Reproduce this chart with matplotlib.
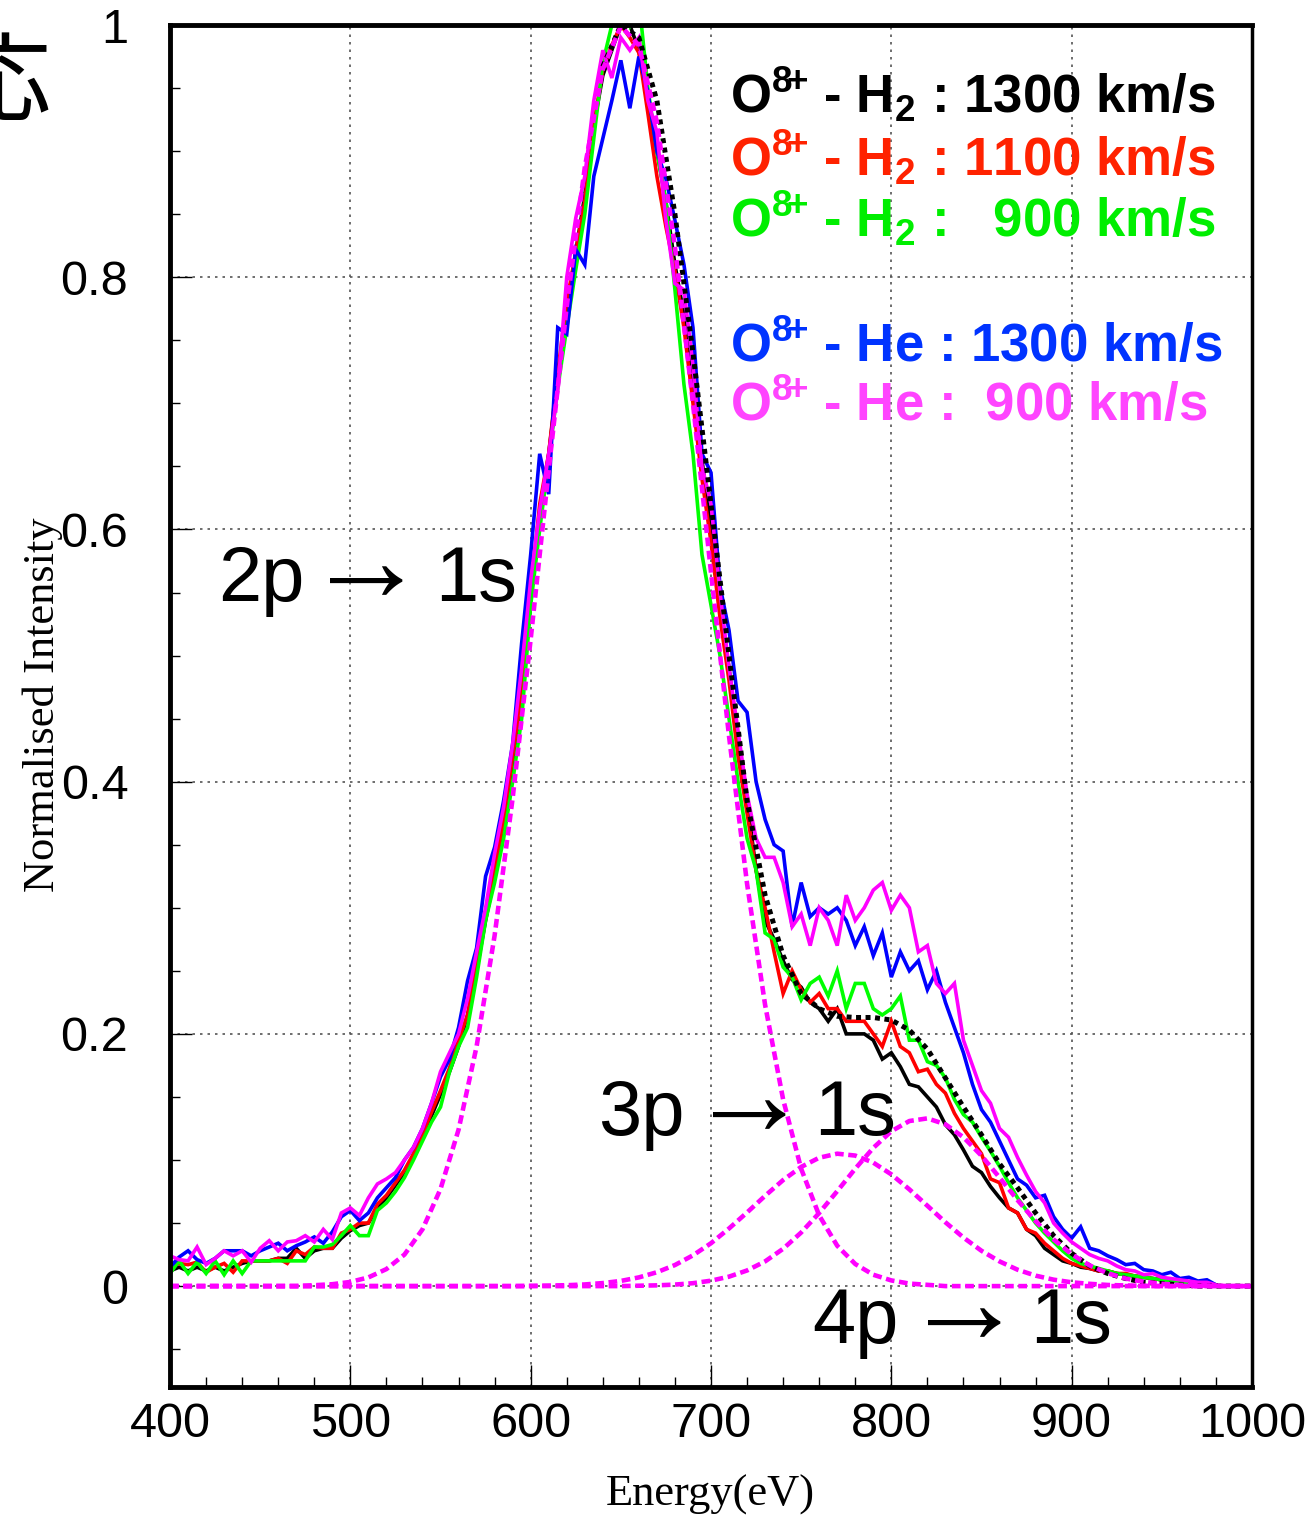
import numpy as np
import matplotlib
matplotlib.use("Agg")
import matplotlib.pyplot as plt
from matplotlib.ticker import MultipleLocator

plt.rcParams['mathtext.fontset'] = 'custom'
plt.rcParams['mathtext.rm'] = 'Liberation Sans'
plt.rcParams['mathtext.bf'] = 'Liberation Sans:bold'

# ---------------- data ----------------
energy = np.arange(400, 985, 5)

h2_1300 = [0.012, 0.015, 0.012, 0.015, 0.012, 0.015, 0.012, 0.015, 0.018, 0.020,
           0.020, 0.020, 0.022, 0.022, 0.030, 0.022, 0.028, 0.030, 0.030, 0.038,
           0.044, 0.048, 0.050, 0.062, 0.070, 0.080, 0.090, 0.102, 0.118, 0.135,
           0.152, 0.170, 0.190, 0.215, 0.250, 0.290, 0.325, 0.365, 0.415, 0.465,
           0.545, 0.610, 0.660, 0.720, 0.775, 0.820, 0.865, 0.920, 0.960, 0.980,
           1.000, 1.000, 0.980, 0.940, 0.900, 0.860, 0.810, 0.770, 0.710, 0.655,
           0.600, 0.540, 0.490, 0.430, 0.385, 0.330, 0.290, 0.275, 0.258, 0.243,
           0.237, 0.225, 0.220, 0.210, 0.220, 0.200, 0.200, 0.200, 0.195, 0.180,
           0.185, 0.174, 0.160, 0.158, 0.150, 0.142, 0.128, 0.120, 0.108, 0.095,
           0.090, 0.079, 0.070, 0.062, 0.058, 0.045, 0.040, 0.030, 0.025, 0.020,
           0.018, 0.015, 0.014, 0.012, 0.012, 0.010, 0.009, 0.008, 0.007, 0.006,
           0.005, 0.004, 0.004, 0.003, 0.002, 0.002, 0.001]

h2_1100 = [0.015, 0.018, 0.017, 0.019, 0.011, 0.015, 0.018, 0.011, 0.020, 0.020,
           0.020, 0.020, 0.022, 0.018, 0.028, 0.025, 0.031, 0.030, 0.030, 0.042,
           0.045, 0.050, 0.050, 0.065, 0.072, 0.082, 0.092, 0.105, 0.120, 0.138,
           0.155, 0.173, 0.195, 0.215, 0.255, 0.297, 0.330, 0.370, 0.420, 0.470,
           0.550, 0.620, 0.660, 0.725, 0.780, 0.820, 0.860, 0.920, 0.965, 0.984,
           1.000, 0.990, 0.978, 0.930, 0.880, 0.840, 0.805, 0.760, 0.700, 0.640,
           0.590, 0.530, 0.480, 0.420, 0.375, 0.330, 0.300, 0.265, 0.232, 0.250,
           0.235, 0.225, 0.232, 0.220, 0.220, 0.210, 0.210, 0.210, 0.200, 0.190,
           0.210, 0.190, 0.185, 0.170, 0.172, 0.160, 0.153, 0.137, 0.125, 0.115,
           0.105, 0.085, 0.082, 0.062, 0.058, 0.045, 0.042, 0.034, 0.028, 0.022,
           0.018, 0.016, 0.014, 0.012, 0.012, 0.010, 0.010, 0.008, 0.007, 0.006,
           0.005, 0.004, 0.004, 0.003, 0.002, 0.002, 0.001]

h2_900 = [0.010, 0.020, 0.010, 0.019, 0.010, 0.020, 0.009, 0.020, 0.010, 0.020,
          0.020, 0.020, 0.020, 0.020, 0.020, 0.020, 0.031, 0.031, 0.033, 0.040,
          0.048, 0.040, 0.040, 0.060, 0.066, 0.075, 0.086, 0.100, 0.115, 0.130,
          0.142, 0.170, 0.190, 0.205, 0.245, 0.290, 0.320, 0.355, 0.400, 0.450,
          0.540, 0.600, 0.655, 0.712, 0.760, 0.806, 0.850, 0.910, 0.970, 1.000,
          1.020, 1.000, 1.020, 0.950, 0.900, 0.860, 0.790, 0.715, 0.660, 0.580,
          0.540, 0.500, 0.450, 0.400, 0.355, 0.330, 0.280, 0.275, 0.253, 0.245,
          0.227, 0.240, 0.245, 0.230, 0.250, 0.220, 0.240, 0.240, 0.220, 0.215,
          0.220, 0.230, 0.195, 0.195, 0.178, 0.175, 0.165, 0.148, 0.136, 0.130,
          0.118, 0.107, 0.095, 0.082, 0.070, 0.060, 0.050, 0.042, 0.035, 0.028,
          0.022, 0.018, 0.016, 0.014, 0.012, 0.010, 0.009, 0.008, 0.007, 0.006,
          0.005, 0.004, 0.003, 0.002, 0.002, 0.001, 0.001]

he_1300 = [0.015, 0.023, 0.028, 0.021, 0.018, 0.022, 0.028, 0.028, 0.028, 0.024,
           0.028, 0.031, 0.034, 0.028, 0.032, 0.035, 0.039, 0.034, 0.043, 0.055,
           0.060, 0.052, 0.058, 0.070, 0.078, 0.086, 0.100, 0.110, 0.125, 0.145,
           0.166, 0.180, 0.205, 0.242, 0.268, 0.325, 0.348, 0.385, 0.430, 0.510,
           0.580, 0.660, 0.628, 0.760, 0.755, 0.822, 0.810, 0.880, 0.910, 0.940,
           0.972, 0.934, 0.975, 0.947, 0.900, 0.878, 0.845, 0.810, 0.760, 0.660,
           0.645, 0.555, 0.520, 0.464, 0.455, 0.400, 0.370, 0.350, 0.345, 0.285,
           0.320, 0.293, 0.300, 0.295, 0.300, 0.290, 0.270, 0.285, 0.262, 0.280,
           0.245, 0.265, 0.250, 0.258, 0.235, 0.250, 0.225, 0.205, 0.185, 0.160,
           0.140, 0.130, 0.115, 0.100, 0.085, 0.080, 0.070, 0.072, 0.055, 0.045,
           0.038, 0.047, 0.030, 0.028, 0.024, 0.021, 0.017, 0.018, 0.013, 0.012,
           0.009, 0.011, 0.006, 0.007, 0.004, 0.005, 0.001]

he_900 = [0.024, 0.021, 0.020, 0.031, 0.017, 0.022, 0.028, 0.024, 0.028, 0.019,
          0.030, 0.036, 0.028, 0.035, 0.036, 0.040, 0.035, 0.045, 0.037, 0.058,
          0.062, 0.056, 0.070, 0.081, 0.085, 0.090, 0.100, 0.110, 0.125, 0.145,
          0.170, 0.185, 0.200, 0.228, 0.265, 0.300, 0.343, 0.380, 0.430, 0.490,
          0.560, 0.615, 0.660, 0.710, 0.800, 0.847, 0.880, 0.940, 0.980, 0.958,
          0.990, 0.980, 0.990, 0.940, 0.915, 0.845, 0.795, 0.790, 0.730, 0.650,
          0.620, 0.550, 0.490, 0.440, 0.390, 0.355, 0.340, 0.340, 0.320, 0.285,
          0.295, 0.270, 0.300, 0.290, 0.270, 0.310, 0.290, 0.300, 0.314, 0.320,
          0.298, 0.310, 0.300, 0.265, 0.270, 0.240, 0.232, 0.240, 0.195, 0.175,
          0.155, 0.145, 0.125, 0.118, 0.102, 0.088, 0.075, 0.066, 0.050, 0.042,
          0.035, 0.030, 0.025, 0.022, 0.020, 0.016, 0.013, 0.012, 0.009, 0.010,
          0.007, 0.006, 0.005, 0.004, 0.003, 0.003, 0.001]

# fitted components (dotted), read at 10 eV steps
fit_energy = np.arange(400, 1010, 10)
comp_2p = [0, 0, 0, 0, 0, 0, 0, 0, 0.0007, 0.0015,
           0.0033, 0.0069, 0.0135, 0.025, 0.045, 0.077, 0.124, 0.19, 0.278, 0.387,
           0.513, 0.647, 0.777, 0.887, 0.965, 0.999, 0.984, 0.923, 0.824, 0.70,
           0.566, 0.436, 0.319, 0.223, 0.148, 0.093, 0.056, 0.032, 0.0175, 0.009,
           0.0045, 0.002, 0.001, 0, 0, 0, 0, 0, 0, 0,
           0, 0, 0, 0, 0, 0, 0, 0, 0, 0, 0]
comp_3p = [0, 0, 0, 0, 0, 0, 0, 0, 0, 0,
           0, 0, 0, 0, 0, 0, 0, 0, 0, 0,
           0.0002, 0.0004, 0.0007, 0.0013, 0.0024, 0.0041, 0.0069, 0.011, 0.0167, 0.0244,
           0.034, 0.0457, 0.0584, 0.0716, 0.0841, 0.0945, 0.1018, 0.105, 0.1035, 0.0979,
           0.0886, 0.0767, 0.0637, 0.0506, 0.0385, 0.028, 0.0196, 0.013, 0.0083, 0.0051,
           0.003, 0.0018, 0.0009, 0.0005, 0.0002, 0, 0, 0, 0, 0, 0]
comp_4p = [0, 0, 0, 0, 0, 0, 0, 0, 0, 0,
           0, 0, 0, 0, 0, 0, 0, 0, 0, 0,
           0, 0, 0, 0, 0, 0, 0.0003, 0.0006, 0.0012, 0.0023,
           0.0043, 0.0075, 0.0124, 0.0196, 0.0296, 0.0425, 0.058, 0.0753, 0.0931, 0.1096,
           0.1228, 0.1309, 0.133, 0.1283, 0.118, 0.1034, 0.0861, 0.0682, 0.0515, 0.037,
           0.0253, 0.0164, 0.0102, 0.006, 0.0034, 0.0018, 0.0009, 0.0005, 0.0002, 0, 0]
# total fit, right-hand side of the peak
total_energy = np.arange(640, 1010, 10)
fit_total = [0.967, 1.0, 0.99, 0.94, 0.85, 0.74,
             0.62, 0.50, 0.385, 0.31, 0.262, 0.232, 0.22, 0.214, 0.213, 0.213,
             0.211, 0.203, 0.188, 0.165, 0.142, 0.12, 0.097, 0.078, 0.058, 0.04,
             0.026, 0.016, 0.01, 0.006, 0.003, 0.002, 0.001, 0, 0, 0, 0]

series = [
    (h2_1300, 'black'),
    (h2_1100, '#ff0000'),
    (h2_900, '#00ff00'),
    (he_1300, '#0000ff'),
    (he_900, '#ff00ff'),
]

sup = r'O$^{\mathbf{8}\!\mathbf{+}}$'
legend_lines = [
    (sup + r' - H$_{\mathbf{2}}$ : 1300 km/s', 'black', 0.930),
    (sup + r' - H$_{\mathbf{2}}$ : 1100 km/s', '#ff2200', 0.880),
    (sup + r' - H$_{\mathbf{2}}$ :   900 km/s', '#00ee00', 0.832),
    (sup + r' - He : 1300 km/s', '#0033ff', 0.733),
    (sup + r' - He :  900 km/s', '#ff44ff', 0.686),
]

# transition labels: (upper level, x of label, x of arrow, x of "1s", baseline)
transitions = [
    ('2p', 426.6, 475.0, 547.0, 0.543),
    ('3p', 637.4, 687.0, 757.0, 0.120),
    ('4p', 756.1, 806.5, 877.0, -0.045),
]

# ---------------- figure ----------------
fig = plt.figure(figsize=(13.1, 15.16), dpi=100)
ax = fig.add_axes([0.1298, 0.0851, 0.8259, 0.8984])

for vals, col in series:
    ax.plot(energy, vals, color=col, lw=2.6, solid_joinstyle='miter')

ax.plot(total_energy, fit_total, color='black', lw=3.6, linestyle=(0, (1.0, 0.9)))
for comp in (comp_2p, comp_3p, comp_4p):
    ax.plot(fit_energy, comp, color='#ff00ff', lw=3.3, linestyle=(0, (1.9, 1.0)))

ax.set_xlim(400, 1000)
ax.set_ylim(-0.08, 1.0)
ax.xaxis.set_major_locator(MultipleLocator(100))
ax.xaxis.set_minor_locator(MultipleLocator(20))
ax.yaxis.set_minor_locator(MultipleLocator(0.05))
ax.set_yticks([0, 0.2, 0.4, 0.6, 0.8, 1.0])
ax.set_yticklabels(['0', '0.2', '0.4', '0.6', '0.8', '1'])
ax.tick_params(which='both', direction='in', top=False, right=False)
ax.tick_params(which='major', length=16, width=1.0)
ax.tick_params(which='minor', length=7, width=1.0)
ax.tick_params(axis='x', pad=11)
ax.tick_params(axis='y', pad=30)
for lab in ax.get_xticklabels() + ax.get_yticklabels():
    lab.set_family('Liberation Sans')
    lab.set_fontsize(35)

ax.grid(True, which='major', color='#555555', lw=1.2, linestyle=(0, (1.5, 3)))
for side in ['left', 'bottom', 'top']:
    ax.spines[side].set_linewidth(3.5)
ax.spines['right'].set_linewidth(2.5)

fig.text(43 / 1310, 1 - 705 / 1516, 'Normalised Intensity', rotation=90,
         ha='center', va='center', family='Liberation Serif', fontsize=32)
fig.text(710 / 1310, 1 - 1495 / 1516, 'Energy(eV)', ha='center', va='center',
         family='Liberation Serif', fontsize=32)

for level, x_lab, x_arr, x_1s, yb in transitions:
    ax.text(x_lab, yb, level, family='Liberation Sans', fontsize=56, va='baseline')
    ax.text(x_arr, yb, '→', family='Liberation Sans', fontsize=88, va='baseline')
    ax.text(x_1s, yb, '1s', family='Liberation Sans', fontsize=56, va='baseline')

for txt, col, yy in legend_lines:
    ax.text(710.6, yy, txt, color=col, fontsize=38, fontweight='bold',
            family='Liberation Sans', va='baseline')

# clipped character at the top-left edge
fig.text(3 / 1310, 1 - 86 / 1516, '応', family=['Noto Sans CJK JP'],
         fontsize=70, ha='center', va='center')

fig.savefig('out.png', dpi=100)
